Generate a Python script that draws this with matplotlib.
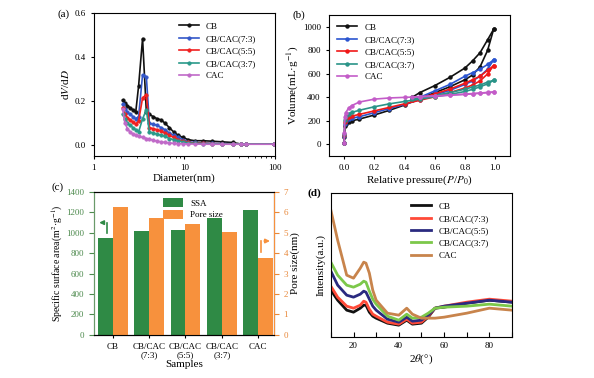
import numpy as np
import matplotlib
matplotlib.use("Agg")
import matplotlib.pyplot as plt

plt.rcParams['font.family'] = ['Liberation Serif', 'DejaVu Serif']
plt.rcParams['mathtext.fontset'] = 'stix'

# ---- (a) pore size distribution ----
diam = [2.08, 2.2, 2.35, 2.5, 2.7, 2.9, 3.12, 3.45, 3.8, 4.1, 4.5, 5.0, 5.5, 6.1, 6.8,
        7.6, 8.5, 9.6, 11, 13, 16, 20, 26, 34, 42, 48, 98]
psd_cb = [0.205, 0.19, 0.18, 0.17, 0.16, 0.15, 0.27, 0.485, 0.15, 0.14, 0.13, 0.12, 0.115,
          0.10, 0.08, 0.06, 0.045, 0.035, 0.025, 0.02, 0.02, 0.018, 0.015, 0.012, 0.005, 0.005, 0.005]
psd_73 = [0.185, 0.165, 0.15, 0.14, 0.13, 0.12, 0.13, 0.32, 0.31, 0.10, 0.095, 0.09, 0.08,
          0.07, 0.055, 0.045, 0.035, 0.025, 0.015, 0.012, 0.01, 0.008, 0.007, 0.006, 0.005, 0.005, 0.005]
psd_55 = [0.17, 0.14, 0.125, 0.115, 0.105, 0.095, 0.11, 0.215, 0.23, 0.08, 0.075, 0.07, 0.065,
          0.055, 0.045, 0.035, 0.025, 0.018, 0.012, 0.01, 0.008, 0.007, 0.006, 0.005, 0.005, 0.005, 0.005]
psd_37 = [0.14, 0.12, 0.10, 0.09, 0.08, 0.07, 0.06, 0.12, 0.16, 0.06, 0.055, 0.05, 0.045,
          0.04, 0.03, 0.025, 0.02, 0.015, 0.01, 0.008, 0.007, 0.006, 0.005, 0.005, 0.005, 0.005, 0.005]
psd_cac = [0.165, 0.10, 0.075, 0.06, 0.05, 0.045, 0.04, 0.035, 0.03, 0.028, 0.022, 0.018, 0.015,
           0.012, 0.01, 0.008, 0.007, 0.006, 0.005, 0.005, 0.004, 0.004, 0.004, 0.004, 0.004, 0.004, 0.004]

# ---- (b) N2 isotherms: adsorption / desorption ----
p_ads = [0.0, 0.001, 0.005, 0.01, 0.03, 0.05, 0.1, 0.2, 0.3, 0.4, 0.5, 0.6, 0.7, 0.8, 0.85, 0.9, 0.95, 0.99]
p_des = [0.99, 0.95, 0.9, 0.85, 0.8, 0.7, 0.6, 0.5, 0.45]
ads_cb = [10, 60, 160, 175, 190, 200, 215, 250, 290, 335, 390, 440, 490, 550, 590, 660, 800, 980]
des_cb = [980, 890, 780, 710, 650, 570, 500, 440, 400]
ads_73 = [10, 70, 175, 200, 215, 222, 235, 270, 305, 340, 380, 420, 460, 510, 540, 580, 640, 720]
des_73 = [720, 680, 640, 610, 580, 510, 455, 400, 380]
ads_55 = [10, 80, 190, 215, 232, 240, 255, 285, 315, 345, 375, 405, 440, 480, 505, 540, 600, 670]
des_55 = [670, 630, 580, 550, 520, 470, 430, 390, 380]
ads_37 = [10, 90, 210, 240, 262, 272, 290, 320, 345, 365, 385, 405, 425, 450, 468, 490, 515, 545]
des_37 = [545, 530, 505, 488, 470, 440, 415, 395, 388]
ads_cac = [10, 100, 235, 270, 310, 330, 360, 385, 395, 400, 405, 410, 418, 425, 430, 435, 440, 445]
des_cac = [445, 442, 437, 432, 428, 420, 412, 407, 404]

# ---- (c) SSA and pore size ----
samples = ['CB', 'CB/CAC\n(7:3)', 'CB/CAC\n(5:5)', 'CB/CAC\n(3:7)', 'CAC']
ssa = [950, 1020, 1025, 1145, 1225]
pore = [6.25, 5.72, 5.45, 5.02, 3.75]

# ---- (d) XRD ----
two_theta = [10, 13, 17, 20, 23, 24.5, 25.5, 27, 28.5, 30, 35, 40, 43.5, 46, 50, 53, 56, 60, 70, 80, 90]
xrd_cb = [47, 37, 27, 25, 29, 32, 32, 25, 21, 19, 14, 12, 17, 13, 14, 20, 29, 30, 34, 37, 35]
xrd_73 = [51, 40, 31, 29, 32, 36, 35, 28, 23, 21, 15, 13, 18, 14, 15, 21, 29, 31, 35, 38, 36]
xrd_55 = [66, 52, 42, 40, 43, 46, 45, 38, 31, 27, 18, 15, 20, 16, 17, 22, 29, 31, 34, 37, 35]
xrd_37 = [75, 62, 52, 50, 53, 56, 55, 46, 38, 33, 21, 17, 23, 19, 20, 24, 29, 30, 31, 33, 31]
xrd_cac = [127, 97, 62, 59, 69, 75, 74, 64, 47, 37, 24, 22, 29, 23, 19, 19, 19, 20, 24, 29, 27]

names = ['CB', 'CB/CAC(7:3)', 'CB/CAC(5:5)', 'CB/CAC(3:7)', 'CAC']

fig = plt.figure(figsize=(5.94, 3.78), dpi=100)
fig.patch.set_facecolor('white')

ax_a = fig.add_axes([0.158, 0.587, 0.305, 0.378])
ax_b = fig.add_axes([0.554, 0.587, 0.305, 0.373])
ax_c = fig.add_axes([0.158, 0.114, 0.303, 0.378])
ax_d = fig.add_axes([0.557, 0.108, 0.305, 0.381])

tick_fs = 6.5
lab_fs = 8

# (a)
cols_a = ['#111111', '#3457c8', '#f02020', '#2a9a8a', '#c06ac8']
for ys, c, n in zip([psd_cb, psd_73, psd_55, psd_37, psd_cac], cols_a, names):
    ax_a.plot(diam, ys, '-o', color=c, lw=1.2, ms=2.4, mfc=c, mew=0.6, label=n)
ax_a.set_xscale('log')
ax_a.set_xlim(1, 100)
ax_a.set_ylim(-0.05, 0.6)
ax_a.set_yticks([0.0, 0.2, 0.4, 0.6])
ax_a.set_xticks([1, 10, 100])
ax_a.set_xticklabels(['1', '10', '100'])
ax_a.set_xlabel('Diameter(nm)', fontsize=lab_fs, labelpad=1)
ax_a.set_ylabel('d$V$/d$D$', fontsize=lab_fs, labelpad=2)
ax_a.legend(loc='upper left', fontsize=6.5, frameon=False, handlelength=2.2,
            labelspacing=0.45, borderaxespad=0.6, bbox_to_anchor=(0.42, 1.0))
ax_a.text(-0.2, 0.99, '(a)', transform=ax_a.transAxes, fontsize=8, va='center')

# (b)
cols_b = ['#111111', '#2b55d0', '#f01818', '#2a9488', '#c35cc8']
ads = [ads_cb, ads_73, ads_55, ads_37, ads_cac]
des = [des_cb, des_73, des_55, des_37, des_cac]
for a, d, c, n in zip(ads, des, cols_b, names):
    ax_b.plot(p_ads, a, '-o', color=c, lw=1.2, ms=2.2, label=n)
    ax_b.plot(p_des, d, '-o', color=c, lw=1.2, ms=2.2)
ax_b.set_xlim(-0.1, 1.1)
ax_b.set_ylim(-100, 1100)
ax_b.set_xticks([0.0, 0.2, 0.4, 0.6, 0.8, 1.0])
ax_b.set_yticks([0, 200, 400, 600, 800, 1000])
ax_b.set_xlabel('Relative pressure($P$/$P_0$)', fontsize=lab_fs, labelpad=1)
ax_b.set_ylabel('Volume(mL·g$^{-1}$)', fontsize=lab_fs, labelpad=1)
ax_b.legend(loc='upper left', fontsize=6.5, frameon=False, handlelength=2.2,
            labelspacing=0.45, borderaxespad=0.5)
ax_b.text(-0.2, 1.0, '(b)', transform=ax_b.transAxes, fontsize=8, va='center')

# (c)
green = '#2f8a45'
orange = '#f7913d'
x = np.arange(len(samples))
w = 0.41
ax_c.bar(x - w / 2, ssa, w, color=green, label='SSA')
ax_c2 = ax_c.twinx()
ax_c2.bar(x + w / 2, pore, w, color=orange, label='Pore size')
ax_c.set_xlim(-0.52, 4.43)
ax_c.set_ylim(0, 1400)
ax_c.set_yticks(range(0, 1401, 200))
ax_c2.set_ylim(0, 7)
ax_c2.set_yticks(range(0, 8))
ax_c.set_xticks(x)
ax_c.set_xticklabels(samples, fontsize=tick_fs, linespacing=0.95)
ax_c.tick_params(axis='y', colors='#4d8a4d', labelsize=tick_fs)
ax_c2.tick_params(axis='y', colors='#e8883a', labelsize=tick_fs)
ax_c.spines['left'].set_color('#6a9a6a')
ax_c2.spines['left'].set_color('#6a9a6a')
ax_c2.spines['right'].set_color(orange)
ax_c.set_xlabel('Samples', fontsize=lab_fs, labelpad=1)
ax_c.set_ylabel('Specific surface area(m$^2$·g$^{-1}$)', fontsize=7, labelpad=1)
ax_c2.set_ylabel('Pore size(nm)', fontsize=lab_fs, labelpad=2)
h1, l1 = ax_c.get_legend_handles_labels()
h2, l2 = ax_c2.get_legend_handles_labels()
ax_c2.legend(h1 + h2, l1 + l2, loc='upper center', fontsize=6.5, frameon=False,
             handlelength=2.2, handleheight=1.1, labelspacing=0.25, borderaxespad=0.3,
             bbox_to_anchor=(0.55, 1.0))
ax_c.plot([-0.16, -0.16], [1000, 1100], color=green, lw=1.2)
ax_c.annotate('', xy=(-0.45, 1100), xytext=(-0.16, 1100),
              arrowprops=dict(arrowstyle='-|>', color=green, lw=1.2, mutation_scale=6))
ax_c2.plot([4.09, 4.09], [4.06, 4.6], color=orange, lw=1.2)
ax_c2.annotate('', xy=(4.4, 4.6), xytext=(4.09, 4.6),
               arrowprops=dict(arrowstyle='-|>', color=orange, lw=1.2, mutation_scale=6))
ax_c.text(-0.235, 1.035, '(c)', transform=ax_c.transAxes, fontsize=8, va='center')

# (d)
cols_d = ['#111111', '#ff4a38', '#2a2a80', '#7cc84a', '#c8844c']
xrd = [xrd_cb, xrd_73, xrd_55, xrd_37, xrd_cac]
for ys, c, n in zip(xrd, cols_d, names):
    ax_d.plot(two_theta, ys, color=c, lw=2.0, label=n)
ax_d.set_xlim(10, 90)
ax_d.set_ylim(0, 144)
ax_d.set_xticks(range(10, 91, 10))
ax_d.set_xticklabels(['' if v % 20 else str(v) for v in range(10, 91, 10)])
ax_d.set_yticks([])
ax_d.tick_params(axis='x', direction='in', labelsize=tick_fs)
ax_d.set_xlabel(r'2$\theta$(°)', fontsize=lab_fs, labelpad=2)
ax_d.set_ylabel('Intensity(a.u.)', fontsize=lab_fs, labelpad=4)
ax_d.legend(loc='upper right', fontsize=6.5, frameon=False, handlelength=2.2,
            labelspacing=0.45, borderaxespad=0.6, bbox_to_anchor=(0.92, 1.0))
ax_d.text(-0.13, 1.0, '(d)', transform=ax_d.transAxes, fontsize=8, va='center',
          fontweight='bold')

for ax in [ax_a, ax_b]:
    ax.tick_params(labelsize=tick_fs, length=2.5, width=0.8)
    ax.tick_params(which='minor', length=1.5)
ax_c.tick_params(axis='x', length=2.5)

fig.savefig('out.png', dpi=100)
